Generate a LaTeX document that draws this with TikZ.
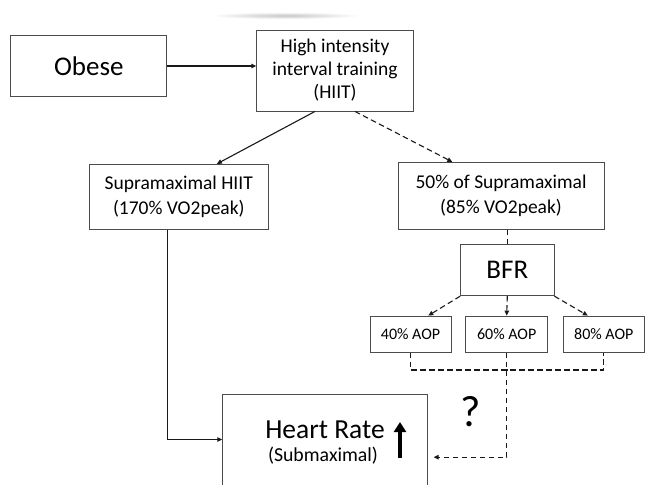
\documentclass[tikz,border=0pt]{standalone}
\usepackage{fontspec}
\setmainfont{Carlito}
\usetikzlibrary{arrows.meta,calc}
\tikzset{
  box/.style={draw=black!70, line width=0.9pt, fill=white, inner sep=0pt, align=center},
  link/.style={draw=black!90, line width=1.1pt},
  tip/.style={-{Triangle[length=5pt,width=4.5pt]}},
  dashlink/.style={link, dash pattern=on 5.5pt off 3.5pt},
}
\begin{document}
\begin{tikzpicture}[x=1pt,y=-1pt]
\useasboundingbox (0,0) rectangle (662,485);
\clip (0,0) rectangle (662,485);

% faint smudge above the top box
\shade[inner color=black!22, outer color=white] (285,15.5) ellipse [x radius=75, y radius=3.5];

% boxes
\node[box, minimum width=156pt, minimum height=60.5pt, font=\fontsize{27}{32}\selectfont] (obese) at (88.8,66) {Obese};
\node[box, minimum width=156.6pt, minimum height=81pt, font=\fontsize{19.5}{23}\selectfont] (hiit) at (335,70.5) {High intensity\\interval training\\(HIIT)};
\node[box, minimum width=179pt, minimum height=64.7pt, font=\fontsize{19.5}{25}\selectfont] (supra) at (178.8,196.7) {Supramaximal HIIT\\(170\% VO2peak)};
\node[box, minimum width=206pt, minimum height=66.7pt, font=\fontsize{19.5}{25}\selectfont] (half) at (501,195.7) {50\% of Supramaximal\\(85\% VO2peak)};
\node[box, minimum width=93.3pt, minimum height=51.4pt, font=\fontsize{27}{32}\selectfont] (bfr) at (507.3,270) {BFR};
\node[box, minimum width=81pt, minimum height=36.3pt, font=\fontsize{16}{19}\selectfont] (aopa) at (410.5,334.2) {40\% AOP};
\node[box, minimum width=82pt, minimum height=36.3pt, font=\fontsize{16}{19}\selectfont] (aopb) at (506.7,334.2) {60\% AOP};
\node[box, minimum width=81pt, minimum height=36.3pt, font=\fontsize{16}{19}\selectfont] (aopc) at (603.8,334.2) {80\% AOP};
\node[box, minimum width=205pt, minimum height=125.6pt] (hr) at (325.2,457.2) {};

% outcome box text
\node[anchor=base, inner sep=0pt, font=\fontsize{27.5}{32}\selectfont] (hrtext) at (325,438) {Heart Rate};
\node[anchor=base, inner sep=0pt, font=\fontsize{19.8}{24}\selectfont] (hrsub) at (323,461.5) {(Submaximal)};
\coordinate (upfoot) at (400,458);
\coordinate (uphead) at (400,422);
\draw[line width=3.6pt, -{Triangle[length=10pt,width=12pt]}] (upfoot) -- (uphead);
\node[inner sep=0pt, font=\fontsize{44}{50}\selectfont] (qmark) at (470.7,412) {?};

% Obese -> HIIT
\draw[link,tip] (obese.east) -- (obese.east -| hiit.west);

% HIIT -> two protocols
\draw[link,tip] ($(hiit.south)+(-20,0)$) -- ($(supra.north)+(38,0)$);
\draw[dashlink,tip] ($(hiit.south)+(20,0)$) -- ($(half.north)+(-48.7,0)$);

% 50% protocol -> BFR -> occlusion levels
\draw[dashlink] (half.south -| bfr.north) -- (bfr.north);
\draw[dashlink,tip] (bfr.south west) -- ($(aopa.north)+(17.8,0)$);
\draw[dashlink,tip] (bfr.south) -- (aopb.north);
\draw[dashlink,tip] (bfr.south east) -- ($(aopc.north)+(-16,0)$);

% occlusion levels merge and lead to heart rate
\coordinate (merge) at (506.7,370);
\coordinate (hrlevel) at (0,439.5);
\draw[dashlink] (aopa.south) |- (merge) -| (aopc.south);
\draw[dashlink,tip] (aopb.south) |- ($(hr.east)+(5.5,0)$ |- hrlevel);

% supramaximal -> heart rate
\draw[link,tip] ($(supra.south)+(-11,0)$) |- (hr.west |- hrlevel);
\end{tikzpicture}
\end{document}
